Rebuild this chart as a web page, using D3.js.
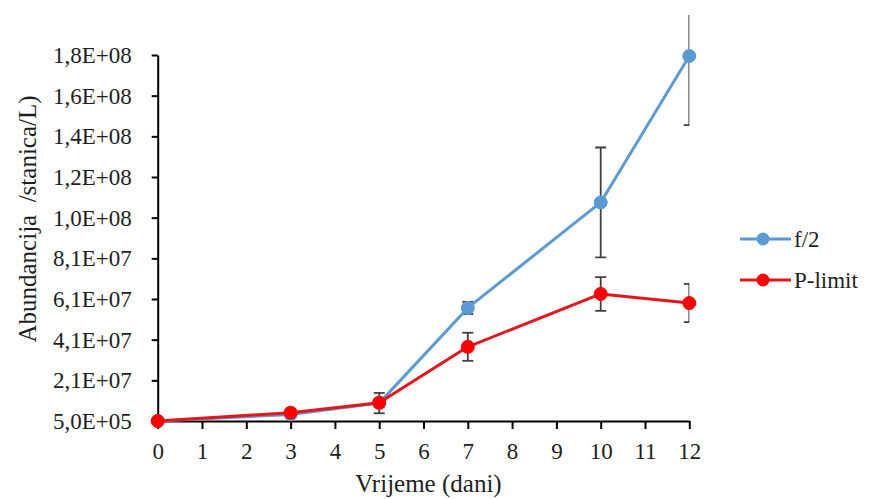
<!DOCTYPE html>
<html>
<head>
<meta charset="utf-8">
<script src="https://cdn.jsdelivr.net/npm/d3@7"></script>
<style>
  html, body { margin: 0; padding: 0; background: #fff; }
  svg text { font-family: "Liberation Serif", "Times New Roman", Times, "DejaVu Serif", serif !important; }
</style>
</head>
<body>
<svg id="chart" width="869" height="499"></svg>
<script>
// ---- data ----
const days = [0, 3, 5, 7, 10, 12];
const f2 = [5.0e5, 3.7e6, 9.3e6, 5.61e7, 1.08e8, 1.80e8];
const f2Err = [0, 1.0e6, 5.0e6, 3.0e6, 2.7e7, 3.4e7];
const pLimit = [5.0e5, 4.6e6, 9.5e6, 3.70e7, 6.30e7, 5.85e7];
const pLimitErr = [0, 0.8e6, 2.0e6, 6.9e6, 8.3e6, 9.4e6];
const seriesNames = ["f/2", "P-limit"];
const xTicks = [0, 1, 2, 3, 4, 5, 6, 7, 8, 9, 10, 11, 12];
const yTicks = [5.0e5, 2.05e7, 4.05e7, 6.05e7, 8.05e7, 1.005e8, 1.205e8, 1.405e8, 1.605e8, 1.805e8];
const yTickLabels = ["5,0E+05", "2,1E+07", "4,1E+07", "6,1E+07", "8,1E+07", "1,0E+08", "1,2E+08", "1,4E+08", "1,6E+08", "1,8E+08"];
const xTitle = "Vrijeme (dani)";
const yTitle = "Abundancija  /stanica/L)";

// ---- layout ----
const svg = d3.select("#chart");
const X0 = 157.7, X1 = 689.3, Y0 = 421, Y1 = 55;
const x = d3.scaleLinear().domain([0, 12]).range([X0, X1]);
const y = d3.scaleLinear().domain([5.0e5, 1.805e8]).range([Y0, Y1]);

const colors = { f2: "#5b9bd5", pLine: "#e3171b", pMarker: "#ff0000" };
const textColor = "#1e1e1e";
const serif = '"Liberation Serif", "Times New Roman", Times, "DejaVu Serif", serif';

svg.append("defs").append("clipPath").attr("id", "plotclip")
  .append("rect").attr("x", X0).attr("y", 15).attr("width", X1 - X0).attr("height", Y0 - 15 + 2);

// ---- axes ----
const xAxis = d3.axisBottom(x).tickValues(xTicks).tickSizeInner(8).tickSizeOuter(0).tickPadding(14)
  .tickFormat(d3.format("d"));
const gx = svg.append("g").attr("transform", `translate(0,${Y0})`).call(xAxis);

const yAxis = d3.axisLeft(y).tickValues(yTicks).tickSizeInner(6).tickSizeOuter(0).tickPadding(20)
  .tickFormat((d, i) => yTickLabels[i]);
const gy = svg.append("g").attr("transform", `translate(${X0},0)`).call(yAxis);

[gx, gy].forEach(g => {
  g.attr("font-family", serif).attr("font-size", 23);
  g.selectAll("text").attr("fill", textColor);
  g.select(".domain").attr("stroke", "#000").attr("stroke-width", 2);
  g.selectAll(".tick line").attr("stroke", "#000").attr("stroke-width", 2);
});

// titles
svg.append("text").attr("x", (X0 + X1) / 2 + 5).attr("y", 492)
  .attr("text-anchor", "middle").attr("font-size", 25).attr("fill", textColor).text(xTitle);
svg.append("text").attr("transform", `translate(36,219) rotate(-90)`)
  .attr("text-anchor", "middle").attr("font-size", 25).attr("fill", textColor)
  .style("white-space", "pre").text(yTitle);

// ---- error bars ----
const errG = svg.append("g").attr("clip-path", "url(#plotclip)");
function drawErr(vals, errs) {
  days.forEach((d, i) => {
    if (!errs[i]) return;
    const cx = x(d), yt = y(vals[i] + errs[i]), yb = y(vals[i] - errs[i]);
    errG.append("line").attr("x1", cx).attr("x2", cx).attr("y1", yt).attr("y2", yb)
      .attr("stroke", "#404040").attr("stroke-width", 1.8);
    [yt, yb].forEach(yy => errG.append("line").attr("x1", cx - 5.5).attr("x2", cx + 5.5)
      .attr("y1", yy).attr("y2", yy).attr("stroke", "#404040").attr("stroke-width", 1.8));
  });
}
drawErr(f2, f2Err);
drawErr(pLimit, pLimitErr);

// ---- lines & markers ----
const line = d3.line().x((d, i) => x(days[i])).y(d => y(d));
function drawSeries(vals, lineColor, markerColor) {
  svg.append("path").datum(vals).attr("d", line).attr("fill", "none")
    .attr("stroke", lineColor).attr("stroke-width", 3).attr("stroke-linejoin", "round");
  svg.append("g").selectAll("circle").data(vals).join("circle")
    .attr("cx", (d, i) => x(days[i])).attr("cy", d => y(d)).attr("r", 6.5)
    .attr("fill", markerColor).attr("stroke", markerColor).attr("stroke-width", 1);
}
drawSeries(f2, colors.f2, colors.f2);
drawSeries(pLimit, colors.pLine, colors.pMarker);

// ---- legend ----
const legend = [
  { name: seriesNames[0], line: colors.f2, marker: colors.f2, y: 239 },
  { name: seriesNames[1], line: colors.pLine, marker: colors.pMarker, y: 280 }
];
const lg = svg.append("g");
legend.forEach(l => {
  lg.append("line").attr("x1", 740).attr("x2", 791).attr("y1", l.y).attr("y2", l.y)
    .attr("stroke", l.line).attr("stroke-width", 3);
  lg.append("circle").attr("cx", 763).attr("cy", l.y).attr("r", 6.5).attr("fill", l.marker);
  lg.append("text").attr("x", 794).attr("y", l.y + 8).attr("font-size", 23)
    .attr("fill", textColor).text(l.name);
});
</script>
</body>
</html>
